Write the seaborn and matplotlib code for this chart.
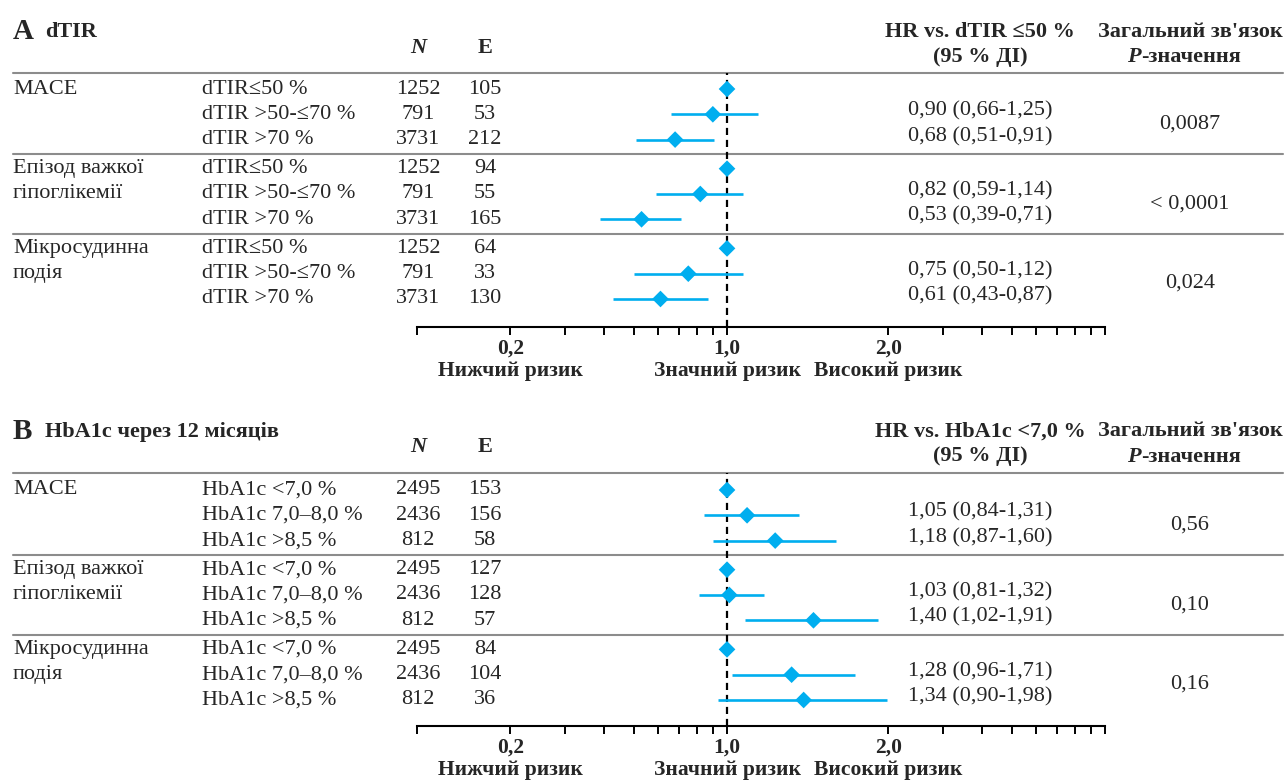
import numpy as np
import pandas as pd
import matplotlib
matplotlib.use("Agg")
import matplotlib.pyplot as plt
import matplotlib.transforms as mtransforms
from matplotlib.ticker import NullLocator
import seaborn as sns

# ---------------------
# Data (HR values)

outcomes = ["MACE", "Епізод важкої\nгіпоглікемії", "Мікросудинна\nподія"]

groups_a = ["dTIR≤50 %", "dTIR >50-≤70 %", "dTIR >70 %"]
n_a = [1252, 791, 3731, 1252, 791, 3731, 1252, 791, 3731]
e_a = [105, 53, 212, 94, 55, 165, 64, 33, 130]
hr_a = [1.0, 0.90, 0.68, 1.0, 0.82, 0.53, 1.0, 0.75, 0.61]
lo_a = [np.nan, 0.66, 0.51, np.nan, 0.59, 0.39, np.nan, 0.50, 0.43]
hi_a = [np.nan, 1.14, 0.91, np.nan, 1.07, 0.71, np.nan, 1.07, 0.87]
ci_text_a = ["", "0,90 (0,66-1,25)", "0,68 (0,51-0,91)",
             "", "0,82 (0,59-1,14)", "0,53 (0,39-0,71)",
             "", "0,75 (0,50-1,12)", "0,61 (0,43-0,87)"]
p_a = ["0,0087", "< 0,0001", "0,024"]

groups_b = ["HbA1c <7,0 %", "HbA1c 7,0–8,0 %", "HbA1c >8,5 %"]
n_b = [2495, 2436, 812, 2495, 2436, 812, 2495, 2436, 812]
e_b = [153, 156, 58, 127, 128, 57, 84, 104, 36]
hr_b = [1.0, 1.09, 1.23, 1.0, 1.01, 1.45, 1.0, 1.32, 1.39]
lo_b = [np.nan, 0.845, 0.90, np.nan, 0.81, 1.08, np.nan, 1.02, 0.935]
hi_b = [np.nan, 1.36, 1.60, np.nan, 1.17, 1.91, np.nan, 1.73, 1.99]
ci_text_b = ["", "1,05 (0,84-1,31)", "1,18 (0,87-1,60)",
             "", "1,03 (0,81-1,32)", "1,40 (1,02-1,91)",
             "", "1,28 (0,96-1,71)", "1,34 (0,90-1,98)"]
p_b = ["0,56", "0,10", "0,16"]

ticks = [0.1, 0.2, 0.3, 0.4, 0.5, 0.6, 0.7, 0.8, 0.9, 1.0,
         2, 3, 4, 5, 6, 7, 8, 9, 10]
tick_text = {0.2: "0,2\nНижчий ризик", 1.0: "1,0\nЗначний ризик", 2: "2,0\nВисокий ризик"}

# ---------------------
# Style

sns.set_theme(style="white")
plt.rcParams["font.family"] = ["Liberation Serif", "DejaVu Serif"]
plt.rcParams["font.size"] = 16

BLUE = "#00AEEF"
GREY = "#8c8c8c"
W, H = 1286, 783


def fx(px):
    return px / W


def fy(py):
    return 1 - py / H


# axis: log below 1, stretched log between 1 and 2, log again above 2
K = 1.728
L2 = np.log(2)


def fwd(x):
    x = np.asarray(x, dtype=float)
    lx = np.log(np.maximum(x, 1e-12))
    return np.where(x <= 1, lx, np.where(x <= 2, K * lx, lx + (K - 1) * L2))


def inv(y):
    y = np.asarray(y, dtype=float)
    return np.where(y <= 0, np.exp(y),
                    np.where(y <= K * L2, np.exp(y / K), np.exp(y - (K - 1) * L2)))


STEP = 25.3
GAP = 0.15
rows = np.array([i + GAP * (i // 3) for i in range(9)])

fig = plt.figure(figsize=(12.86, 7.83), dpi=100)


def panel(letter, title, top_px, row0_px, axis_px, groups, n, e, hr, lo, hi,
          ci_text, pvals, hr_head):
    ax = fig.add_axes([fx(417), fy(axis_px), fx(1105) - fx(417), (axis_px - top_px) / H])
    ax.set_xscale("function", functions=(fwd, inv))
    ax.set_xlim(0.1, 10)
    ax.set_ylim((axis_px - row0_px) / STEP, -(row0_px - top_px) / STEP)

    df = pd.DataFrame({"row": rows, "hr": hr, "lo": lo, "hi": hi})
    ci = df.dropna()
    ax.hlines(ci["row"], ci["lo"], ci["hi"], color=BLUE, lw=1.9, zorder=3)
    sns.scatterplot(data=df, x="hr", y="row", marker="D", s=72, color=BLUE,
                    edgecolor="none", ax=ax, zorder=4)
    ax.axvline(1, color="black", lw=1.6, ls=(0, (3.2, 2.2)), zorder=2)

    ax.set_xticks(ticks)
    ax.set_xticklabels([tick_text.get(t, "") for t in ticks], fontweight="bold",
                       fontsize=15.5, linespacing=1.2)
    ax.xaxis.set_minor_locator(NullLocator())
    ax.xaxis.get_major_ticks()[ticks.index(1.0)].tick1line.set_visible(False)
    ax.tick_params(axis="x", direction="out", length=6, width=1.4, pad=2,
                   color="black", bottom=True)
    ax.set_yticks([])
    ax.set_xlabel("")
    ax.set_ylabel("")
    for side in ["top", "left", "right"]:
        ax.spines[side].set_visible(False)
    ax.spines["bottom"].set_color("black")
    ax.spines["bottom"].set_linewidth(1.5)
    ax.patch.set_alpha(0)

    tr = mtransforms.blended_transform_factory(fig.transFigure, ax.transData)

    # separator lines
    ylo, yhi = ax.get_ylim()
    seps = [yhi, (rows[2] + rows[3]) / 2, (rows[5] + rows[6]) / 2]
    for s in seps:
        ax.plot([fx(13), fx(1283)], [s, s], transform=tr, color=GREY, lw=1.5,
                clip_on=False, zorder=1)

    # left columns
    for g, name in enumerate(outcomes):
        for k, line in enumerate(name.split("\n")):
            ax.text(fx(13), rows[3 * g + k], line, transform=tr, ha="left", va="center")
    for i in range(9):
        ax.text(fx(202), rows[i], groups[i % 3], transform=tr, ha="left", va="center")
        ax.text(fx(418), rows[i], str(n[i]), transform=tr, ha="center", va="center")
        ax.text(fx(485), rows[i], str(e[i]), transform=tr, ha="center", va="center")
        if ci_text[i]:
            ax.text(fx(980), rows[i] - 0.12, ci_text[i], transform=tr,
                    ha="center", va="center")
    for g, p in enumerate(pvals):
        ax.text(fx(1190), (rows[3 * g + 1] + rows[3 * g + 2]) / 2 - 0.12, p,
                transform=tr, ha="center", va="center")

    # headers
    head_y = top_px - 41
    fig.text(fx(13), fy(head_y), letter, fontsize=21, fontweight="bold",
             ha="left", va="center")
    fig.text(fx(45), fy(head_y), title, fontsize=16, fontweight="bold",
             ha="left", va="center")
    fig.text(fx(418), fy(top_px - 25), "N", fontweight="bold", style="italic",
             ha="center", va="center")
    fig.text(fx(485), fy(top_px - 25), "E", fontweight="bold",
             ha="center", va="center")
    fig.text(fx(980), fy(head_y), hr_head, fontweight="bold", ha="center", va="center")
    fig.text(fx(980), fy(top_px - 16), "(95 % ДІ)", fontweight="bold",
             ha="center", va="center")
    fig.text(fx(1190), fy(head_y), "Загальний зв'язок", fontweight="bold",
             ha="center", va="center")
    fig.text(fx(1141), fy(top_px - 16), "P", fontweight="bold", style="italic",
             ha="right", va="center")
    fig.text(fx(1141), fy(top_px - 16), "-значення", fontweight="bold",
             ha="left", va="center")
    return ax


panel("A", "dTIR", 72.7, 89, 327, groups_a, n_a, e_a, hr_a, lo_a, hi_a,
      ci_text_a, p_a, "HR vs. dTIR ≤50 %")
panel("B", "HbA1c через 12 місяців", 472.5, 490, 726, groups_b, n_b, e_b, hr_b,
      lo_b, hi_b, ci_text_b, p_b, "HR vs. HbA1c <7,0 %")

fig.savefig("out.png", dpi=100)
